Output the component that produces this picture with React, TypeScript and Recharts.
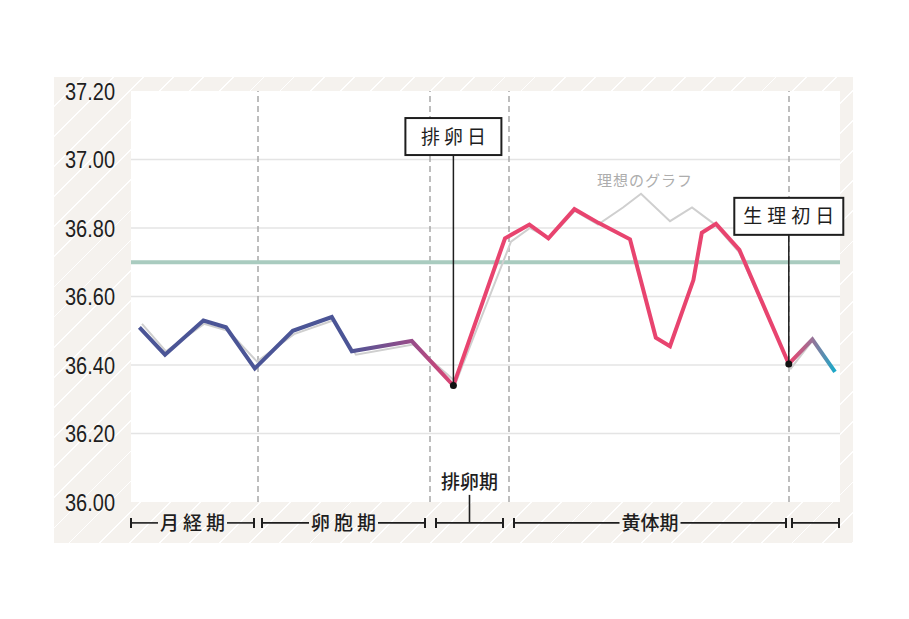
import React from 'react';
import {
  LineChart, Line, XAxis, YAxis, CartesianGrid,
  ReferenceLine, ReferenceDot,
} from 'recharts';

// 基礎体温：横位置（日）と体温
const days = [0.42, 1.7, 3.62, 4.75, 6.19, 8.09, 10.04, 11.04, 14.04, 16.12, 18.7, 19.92, 20.87, 22.17, 23.37, 24.95, 26.24, 26.95, 28.12, 28.54, 29.25, 30.42, 32.89, 34.07, 35.2];
const temps = [36.51, 36.43, 36.53, 36.51, 36.39, 36.5, 36.54, 36.44, 36.47, 36.34, 36.77, 36.81, 36.77, 36.855, 36.815, 36.767, 36.48, 36.455, 36.648, 36.786, 36.812, 36.736, 36.403, 36.475, 36.38];

// 理想のグラフ
const idealDays = [0.55, 1.75, 3.65, 4.85, 6.3, 8.15, 10.1, 11.25, 14.1, 16.25, 19.0, 19.95, 20.9, 22.2, 23.35, 24.6, 25.5, 26.95, 28.05, 29.2, 30.4, 33.0, 34.05];
const idealTemps = [36.52, 36.44, 36.52, 36.5, 36.41, 36.49, 36.53, 36.43, 36.46, 36.35, 36.76, 36.8, 36.77, 36.85, 36.81, 36.86, 36.9, 36.82, 36.86, 36.81, 36.73, 36.39, 36.47];

const yTicks = [36.0, 36.2, 36.4, 36.6, 36.8, 37.0, 37.2];
const gridTemps = [36.2, 36.4, 36.6, 36.8, 37.0];
const dividerDays = [6.35, 14.95, 18.9, 32.9];
const TARGET_TEMP = 36.7;

// 期間
const phaseNames = ['月経期', '卵胞期', '排卵期', '黄体期', ''];
const phaseStarts = [0, 6.55, 15.25, 19.15, 33.05];
const phaseEnds = [6.15, 14.7, 18.6, 32.75, 35.4];
const PHASE_ROW = 35.939;

// 吹き出し
const markerLabels = ['排卵日', '生理初日'];
const markerIndex = [9, 22];
const markerTop = [37.013, 36.78];

const IDEAL_LABEL_DAY = 25.7;
const IDEAL_LABEL_TEMP = 36.937;

const mainData = days.map((d, i) => ({ day: d, temp: temps[i] }));
const idealData = idealDays.map((d, i) => ({ day: d, temp: idealTemps[i] }));

const JP = '"Noto Sans CJK JP", "Noto Sans", sans-serif';
const INK = '#1e1e1e';

function TempTick({ y, payload }: any) {
  return (
    <text
      x={115} y={y} dy={8.5} textAnchor="end"
      fontSize={23} fill={INK} fontFamily='"Liberation Sans", Arial, sans-serif'
      textLength={50} lengthAdjust="spacingAndGlyphs"
    >
      {payload.value.toFixed(2)}
    </text>
  );
}

function Bracket({ x1, x2, y1, name, spaced, above }: any) {
  const left = Math.min(x1, x2);
  const right = Math.max(x1, x2);
  const cx = (left + right) / 2;
  const fs = 19;
  const ls = spaced ? 4 : 0;
  const tw = name && !above ? name.length * fs + (name.length - 1) * ls + 4 : 0;
  const segs = tw
    ? [[left, cx - tw / 2], [cx + tw / 2, right]]
    : [[left, right]];
  return (
    <g stroke={INK} strokeWidth={1.6}>
      {segs.map(([a, b], i) => (
        <line key={i} x1={a} x2={b} y1={y1} y2={y1} />
      ))}
      <line x1={left} x2={left} y1={y1 - 5} y2={y1 + 5} strokeWidth={2} />
      <line x1={right} x2={right} y1={y1 - 5} y2={y1 + 5} strokeWidth={2} />
      {above && <line x1={cx} x2={cx} y1={y1} y2={y1 - 28} />}
      {name && (
        <text
          x={cx + ls / 2} y={above ? y1 - 41 : y1} dy={7}
          textAnchor="middle" fontSize={fs} fontWeight={500} fill={INK} stroke="none"
          fontFamily={JP} letterSpacing={ls}
        >
          {name}
        </text>
      )}
    </g>
  );
}

function Callout({ x1, y1, y2, label }: any) {
  const top = Math.min(y1, y2);
  const bottom = Math.max(y1, y2);
  const fs = 19;
  const ls = label.length > 3 ? 5 : 4;
  const w = label.length > 3 ? 109 : 96;
  const h = 37;
  return (
    <g>
      <line x1={x1} x2={x1} y1={top} y2={bottom} stroke={INK} strokeWidth={1.5} />
      <rect x={x1 - w / 2} y={top - h} width={w} height={h} fill="#fff" stroke={INK} strokeWidth={2} />
      <text
        x={x1 + ls / 2} y={top - h / 2} dy={7}
        textAnchor="middle" fontSize={fs} fill={INK}
        fontFamily={JP} letterSpacing={ls}
      >
        {label}
      </text>
    </g>
  );
}

export default function App() {
  return (
    <div style={{ position: 'absolute', left: 0, top: 0, width: 909, height: 619, background: '#fff' }}>
      <div
        style={{
          position: 'absolute', left: 54, top: 77, width: 799, height: 466,
          backgroundColor: '#f5f2ee',
          backgroundImage: 'repeating-linear-gradient(135deg, rgba(255,255,255,0) 0px, rgba(255,255,255,0) 20px, #ffffff 20px, #ffffff 21.3px)',
        }}
      />
      <div style={{ position: 'absolute', left: 0, top: 0 }}>
        <LineChart
          width={909}
          height={619}
          data={mainData}
          margin={{ top: 91, right: 69, bottom: 117, left: 0 }}
        >
          <defs>
            <linearGradient id="tempStroke" x1="0" y1="0" x2="1" y2="0">
              <stop offset="0" stopColor="#4b5596" />
              <stop offset="0.3" stopColor="#4b5596" />
              <stop offset="0.4" stopColor="#9f4b88" />
              <stop offset="0.46" stopColor="#e8446f" />
              <stop offset="0.935" stopColor="#e8446f" />
              <stop offset="0.967" stopColor="#9a7297" />
              <stop offset="1" stopColor="#19a9c9" />
            </linearGradient>
          </defs>
          <CartesianGrid horizontal={false} vertical={false} fill="#ffffff" />
          <XAxis type="number" dataKey="day" domain={[0, 35.45]} hide />
          <YAxis
            type="number"
            domain={[36, 37.2]}
            ticks={yTicks}
            interval={0}
            width={131}
            axisLine={false}
            tickLine={false}
            tick={<TempTick />}
          />
          {gridTemps.map((t) => (
            <ReferenceLine key={`g${t}`} y={t} stroke="#e4e4e4" strokeWidth={1.5} />
          ))}
          {dividerDays.map((d) => (
            <ReferenceLine key={`d${d}`} x={d} stroke="#a8a8a8" strokeWidth={1.5} strokeDasharray="6 4" />
          ))}
          <ReferenceLine y={TARGET_TEMP} stroke="#a9cbbf" strokeWidth={4} />
          <ReferenceDot
            x={IDEAL_LABEL_DAY}
            y={IDEAL_LABEL_TEMP}
            r={0}
            shape={(p: any) => (
              <text x={p.cx} y={p.cy} dy={5} textAnchor="middle" fontSize={15} fill="#adadad" fontFamily={JP} letterSpacing={1}>
                理想のグラフ
              </text>
            )}
          />
          <Line
            data={idealData}
            dataKey="temp"
            type="linear"
            stroke="#cfcfcf"
            strokeWidth={2}
            dot={false}
            activeDot={false}
            isAnimationActive={false}
          />
          <Line
            dataKey="temp"
            type="linear"
            stroke="url(#tempStroke)"
            strokeWidth={4}
            strokeLinejoin="miter"
            dot={false}
            activeDot={false}
            isAnimationActive={false}
          />
          {phaseNames.map((name, i) => (
            <ReferenceLine
              key={`p${i}`}
              ifOverflow="visible"
              segment={[{ x: phaseStarts[i], y: PHASE_ROW }, { x: phaseEnds[i], y: PHASE_ROW }]}
              shape={(p: any) => <Bracket {...p} name={name} spaced={i < 2} above={i === 2} />}
            />
          ))}
          {markerLabels.map((label, i) => (
            <ReferenceLine
              key={`m${i}`}
              ifOverflow="visible"
              segment={[
                { x: days[markerIndex[i]], y: temps[markerIndex[i]] },
                { x: days[markerIndex[i]], y: markerTop[i] },
              ]}
              shape={(p: any) => <Callout {...p} label={label} />}
            />
          ))}
          {markerIndex.map((idx) => (
            <ReferenceDot key={`dot${idx}`} x={days[idx]} y={temps[idx]} r={3.5} fill="#111" stroke="none" />
          ))}
        </LineChart>
      </div>
    </div>
  );
}
